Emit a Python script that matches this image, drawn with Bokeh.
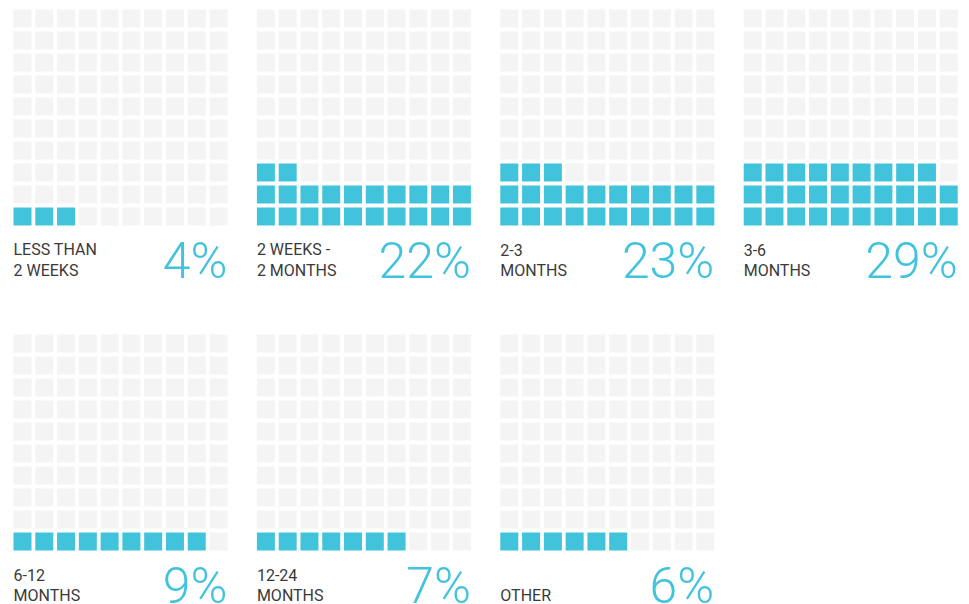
from bokeh.plotting import figure
from bokeh.models import Range1d, ColumnDataSource
from bokeh.core.properties import value
from bokeh.embed import file_html
from bokeh.resources import INLINE

# ---- data ----
label_line1 = ["LESS THAN", "2 WEEKS -", "2-3", "3-6", "6-12", "12-24", ""]
label_line2 = ["2 WEEKS", "2 MONTHS", "MONTHS", "MONTHS", "MONTHS", "MONTHS", "OTHER"]
percent_labels = ["4%", "22%", "23%", "29%", "9%", "7%", "6%"]
filled_cells = [3, 22, 23, 29, 9, 7, 6]

# ---- layout / style ----
W, H = 961, 604
BLUE = "#42c3dc"
GREY = "#f4f4f4"
TEXT = "#3a3a3a"
CELL = 18
PITCH_X = 21.78
PITCH_Y = 22
GRID_DX = 243.4
GRID_DY = 325
X0, Y0 = 13, 9
PER_ROW = 4
GRID_W = 9 * PITCH_X + CELL
GRID_H = 9 * PITCH_Y + CELL

p = figure(width=W, height=H, output_backend="svg", toolbar_location=None,
           x_range=Range1d(0, W), y_range=Range1d(H, 0), min_border=0)
p.axis.visible = False
p.grid.visible = False
p.outline_line_color = None
p.background_fill_color = "white"
p.border_fill_color = "white"

xs, ys, cols = [], [], []
lx, l1y, l2y, px, py = [], [], [], [], []
for i, n in enumerate(filled_cells):
    gc, gr = i % PER_ROW, i // PER_ROW
    gx = X0 + gc * GRID_DX
    gy = Y0 + gr * GRID_DY
    for k in range(100):
        rfb, c = k // 10, k % 10
        xs.append(gx + c * PITCH_X + CELL / 2)
        ys.append(gy + (9 - rfb) * PITCH_Y + CELL / 2)
        cols.append(BLUE if k < n else GREY)
    bottom = gy + GRID_H
    lx.append(gx)
    l1y.append(bottom + 24)
    l2y.append(bottom + 45)
    px.append(gx + GRID_W)
    py.append(bottom + 35)

cells = ColumnDataSource(dict(x=xs, y=ys, c=cols))
p.rect(x="x", y="y", width=CELL, height=CELL, fill_color="c", line_color=None, source=cells)

labels = ColumnDataSource(dict(x=lx, y1=l1y, y2=l2y, t1=label_line1, t2=label_line2,
                               px=px, py=py, pt=percent_labels))
p.text(x="x", y="y1", text="t1", source=labels, text_font=value("Roboto"),
       text_font_size="16px", text_color=TEXT, text_baseline="alphabetic", text_align="left")
p.text(x="x", y="y2", text="t2", source=labels, text_font=value("Roboto"),
       text_font_size="16px", text_color=TEXT, text_baseline="alphabetic", text_align="left")
p.text(x="px", y="py", text="pt", source=labels, text_font=value("Roboto Light, Roboto"),
       text_font_size="50px", text_color=BLUE, text_baseline="alphabetic", text_align="right")

open("out.html", "w").write(file_html(p, INLINE))
